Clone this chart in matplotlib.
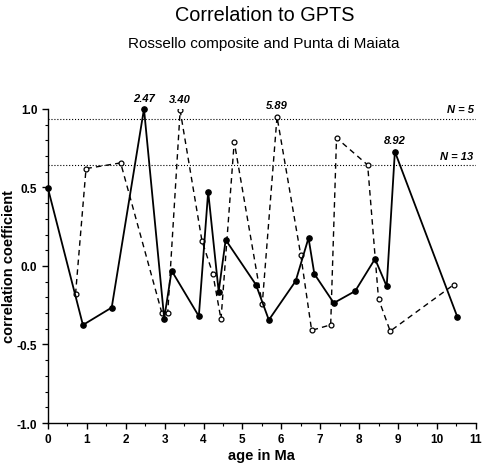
#
# Correlation to GPTS - Rossello composite and Punta di Maiata
#

import numpy as np
import matplotlib
matplotlib.use("Agg")
import matplotlib.pyplot as plt

plt.rcParams['font.family'] = ['Liberation Sans', 'DejaVu Sans']

# Rossello composite (solid line, filled dots)
age_ross = [0.0, 0.90, 1.64, 2.47, 2.99, 3.18, 3.88, 4.12, 4.39, 4.57, 5.35,
            5.68, 6.37, 6.70, 6.85, 7.35, 7.90, 8.41, 8.71, 8.92, 10.53]
corr_ross = [0.495, -0.376, -0.265, 1.0, -0.335, -0.03, -0.32, 0.473, -0.163, 0.166, -0.12,
             -0.344, -0.096, 0.178, -0.051, -0.236, -0.16, 0.045, -0.13, 0.728, -0.327]

# Punta di Maiata (dashed line, open dots)
age_maia = [0.71, 0.98, 1.87, 2.93, 3.08, 3.40, 3.96, 4.24, 4.45, 4.79, 5.51,
            5.89, 6.50, 6.78, 7.27, 7.42, 8.22, 8.50, 8.80, 10.43]
corr_maia = [-0.18, 0.62, 0.656, -0.30, -0.30, 0.99, 0.16, -0.05, -0.34, 0.79, -0.245,
             0.95, 0.07, -0.41, -0.375, 0.815, 0.643, -0.21, -0.415, -0.12]

# significance levels
sig_levels = [0.935, 0.64]
sig_labels = ["N = 5", "N = 13"]

# labelled peaks
peak_labels = ["2.47", "3.40", "5.89", "8.92"]
peak_x = [2.47, 3.40, 5.89, 8.92]
peak_y = [1.0, 0.99, 0.95, 0.728]

fig = plt.figure(figsize=(4.84, 4.64), dpi=100)
ax = fig.add_axes([0.099, 0.0862, 0.884, 0.677])

for lev in sig_levels:
    ax.axhline(lev, color="black", linestyle=":", linewidth=0.8)

ax.plot(age_maia, corr_maia, color="black", linestyle=(0, (4, 3)), linewidth=1.0,
        marker="o", markersize=3.5, markerfacecolor="white", markeredgewidth=0.9, zorder=3)
ax.plot(age_ross, corr_ross, color="black", linestyle="-", linewidth=1.3,
        marker="o", markersize=3.8, markerfacecolor="black", zorder=4, clip_on=False)

for lab, px, py in zip(peak_labels, peak_x, peak_y):
    ax.text(px, py + 0.04, lab, ha="center", va="bottom", fontsize=8,
            fontstyle="italic", fontweight="bold", clip_on=False)

ax.text(10.6, sig_levels[0] + 0.03, sig_labels[0], ha="center", va="bottom",
        fontsize=8, fontstyle="italic", fontweight="bold")
ax.text(10.5, sig_levels[1] + 0.03, sig_labels[1], ha="center", va="bottom",
        fontsize=8, fontstyle="italic", fontweight="bold")

ax.set_xlim(0, 11)
ax.set_ylim(-1, 1)
ax.set_xticks(np.arange(0, 12, 1))
ax.set_xticks(np.arange(0.5, 11, 1), minor=True)
ax.set_yticks([-1.0, -0.5, 0.0, 0.5, 1.0])
ax.set_yticks(np.arange(-1.0, 1.01, 0.1), minor=True)
ax.set_yticklabels(["-1.0", "-0.5", "0.0", "0.5", "1.0"])
ax.tick_params(axis="both", which="major", direction="out", length=4, width=1,
               labelsize=8.5)
ax.tick_params(axis="both", which="minor", direction="out", length=2.5, width=0.8)
for lab in ax.get_xticklabels() + ax.get_yticklabels():
    lab.set_fontweight("bold")

ax.spines["top"].set_visible(False)
ax.spines["right"].set_visible(False)
ax.spines["left"].set_linewidth(1.0)
ax.spines["bottom"].set_linewidth(1.0)

ax.set_xlabel("age in Ma", fontsize=10.5, fontweight="bold", labelpad=2)
ax.set_ylabel("correlation coefficient", fontsize=10.5, fontweight="bold", labelpad=1)

fig.text(0.547, 0.966, "Correlation to GPTS", ha="center", va="center", fontsize=14.3)
fig.text(0.545, 0.905, "Rossello composite and Punta di Maiata", ha="center",
         va="center", fontsize=11)

fig.savefig("out.png", dpi=100)
